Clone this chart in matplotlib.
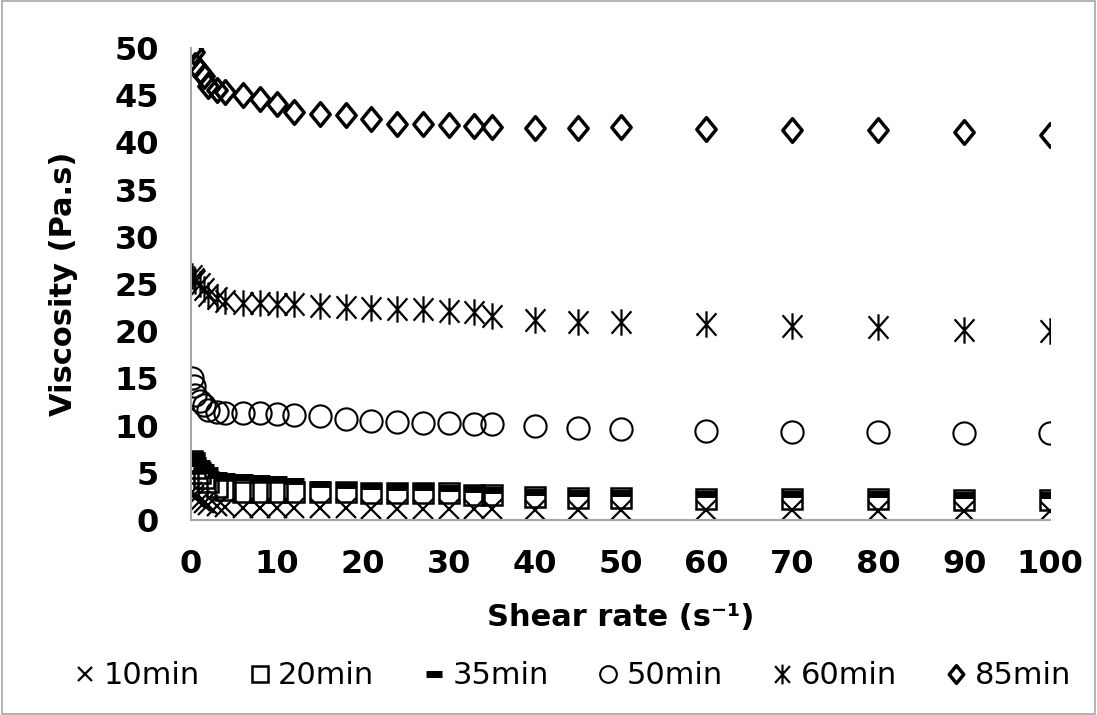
import matplotlib
matplotlib.use("Agg")
import matplotlib.pyplot as plt
from matplotlib.path import Path

# shear rate (1/s)
shear = [0.1, 0.3, 0.5, 1, 1.5, 2, 3, 4, 6, 8, 10, 12, 15, 18, 21, 24, 27,
         30, 33, 35, 40, 45, 50, 60, 70, 80, 90, 100]

# viscosity (Pa.s) per gelation time
v10 = [3.0, 2.6, 2.3, 2.0, 1.8, 1.6, 1.5, 1.4, 1.3, 1.3, 1.3, 1.3, 1.3, 1.3,
       1.2, 1.2, 1.2, 1.2, 1.2, 1.2, 1.1, 1.1, 1.1, 1.1, 1.1, 1.0, 1.0, 1.0]
v20 = [6.3, 6.0, 5.5, 5.0, 4.5, 4.0, 3.5, 3.2, 3.0, 3.0, 3.0, 3.0, 3.0, 3.0,
       2.9, 2.9, 2.9, 2.9, 2.7, 2.6, 2.4, 2.3, 2.3, 2.2, 2.2, 2.2, 2.1, 2.1]
v35 = [6.8, 6.6, 6.2, 6.0, 5.6, 5.3, 4.8, 4.7, 4.6, 4.4, 4.3, 4.1, 3.8, 3.7,
       3.6, 3.5, 3.5, 3.4, 3.3, 3.2, 3.0, 2.9, 2.9, 2.8, 2.8, 2.8, 2.7, 2.7]
v50 = [15.0, 14.2, 13.2, 12.6, 12.2, 11.6, 11.4, 11.3, 11.3, 11.3, 11.2,
       11.1, 11.0, 10.7, 10.5, 10.4, 10.3, 10.3, 10.2, 10.2, 10.0, 9.7, 9.6,
       9.4, 9.3, 9.3, 9.2, 9.2]
v60 = [25.8, 25.5, 25.3, 25.0, 24.5, 23.8, 23.5, 23.2, 23.0, 23.0, 22.9,
       22.9, 22.7, 22.6, 22.5, 22.4, 22.3, 22.1, 22.0, 21.6, 21.2, 21.0, 21.0,
       20.8, 20.5, 20.4, 20.1, 20.0]
v85 = [50.0, 49.6, 48.2, 47.6, 47.0, 46.0, 45.6, 45.3, 45.0, 44.6, 44.1,
       43.2, 43.0, 42.9, 42.5, 42.0, 41.9, 41.8, 41.7, 41.6, 41.5, 41.5, 41.6,
       41.4, 41.3, 41.3, 41.1, 40.8]

labels = ["10min", "20min", "35min", "50min", "60min", "85min"]

# Excel-like markers: squat diamond and "x with a vertical bar" asterisk
diamond = Path([(0, 1), (0.82, 0), (0, -1), (-0.82, 0), (0, 1)],
               [Path.MOVETO, Path.LINETO, Path.LINETO, Path.LINETO, Path.CLOSEPOLY])
star = Path([(0, 1), (0, -1), (-0.75, 0.85), (0.75, -0.85), (0.75, 0.85), (-0.75, -0.85)],
            [Path.MOVETO, Path.LINETO] * 3)

fig = plt.figure(figsize=(10.97, 7.15), dpi=100)
ax = fig.add_axes([191 / 1097, 1 - 520 / 715, (1050 - 191) / 1097, (520 - 48) / 715])

style = dict(linestyle="none", color="black", markerfacecolor="none")
ax.plot(shear, v10, marker="x", ms=14, mew=1.6, label=labels[0], **style)
ax.plot(shear, v20, marker="s", ms=15, mew=1.8, label=labels[1], **style)
ax.plot(shear, v35, marker="_", ms=15, mew=5, label=labels[2], **style)
ax.plot(shear, v50, marker="o", ms=16, mew=1.5, label=labels[3], **style)
ax.plot(shear, v60, marker=star, ms=19, mew=1.6, label=labels[4], **style)
ax.plot(shear, v85, marker=diamond, ms=17, mew=2.5, label=labels[5], **style)

ax.set_xlim(0, 100)
ax.set_ylim(0, 50)
ax.set_xticks(range(0, 101, 10))
ax.set_yticks(range(0, 51, 5))
ax.tick_params(length=0, labelsize=23)
ax.tick_params(axis="x", pad=21)
ax.tick_params(axis="y", pad=23)
for t in ax.get_xticklabels() + ax.get_yticklabels():
    t.set_fontweight("bold")

for s in ["top", "right"]:
    ax.spines[s].set_visible(False)
for s in ["left", "bottom"]:
    ax.spines[s].set_color("#a6a6a6")
    ax.spines[s].set_linewidth(1.5)

ax.set_xlabel("Shear rate (s\u207b\u00b9)", fontsize=22, fontweight="bold")
ax.set_ylabel("Viscosity (Pa.s)", fontsize=22, fontweight="bold")
ax.xaxis.set_label_coords(0.5, (520 - 603) / 472)
ax.yaxis.set_label_coords((78 - 191) / 859, 0.5)

leg = fig.legend(loc="center", bbox_to_anchor=(0.523, 1 - 676 / 715), ncol=6,
                 frameon=False, markerscale=0.75, fontsize=22,
                 handlelength=0.6, handletextpad=0.3, columnspacing=1.65)

border = plt.Rectangle((0.002, 0.002), 0.996, 0.996, transform=fig.transFigure,
                       fill=False, edgecolor="#a6a6a6", linewidth=1.2)
fig.patches.append(border)

fig.savefig("out.png", dpi=100)
